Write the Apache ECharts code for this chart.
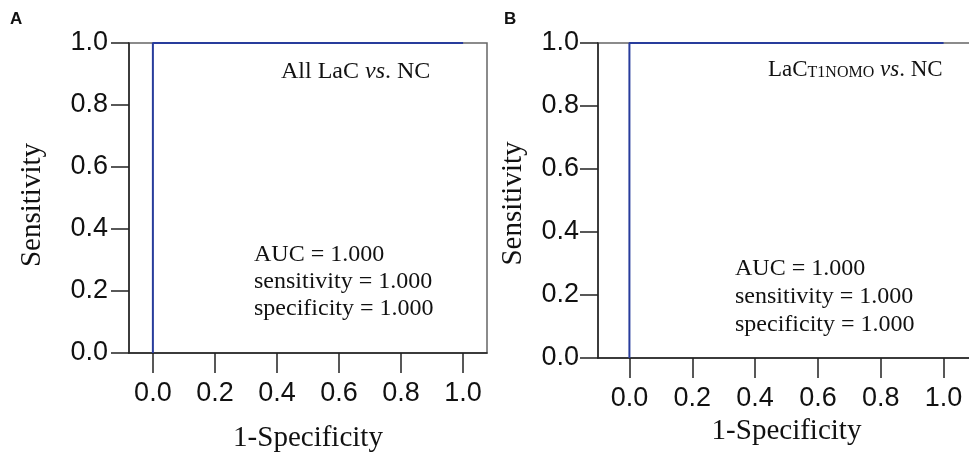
<!DOCTYPE html>
<html>
<head>
<meta charset="utf-8">
<script src="https://cdn.jsdelivr.net/npm/echarts@6/dist/echarts.min.js"></script>
<style>
html,body{margin:0;padding:0;background:#fff;}
#chart{width:969px;height:452px;}
</style>
</head>
<body>
<div id="chart"></div>
<script>
// ---- data ----
const rocA = [[0, 0], [0, 1], [1, 1]];
const rocB = [[0, 0], [0, 1], [1, 1]];
const xTicks = [0, 0.2, 0.4, 0.6, 0.8, 1.0];
const yTicks = [0, 0.2, 0.4, 0.6, 0.8, 1.0];
const panelLabels = ['A', 'B'];
const statsA = ['AUC = 1.000', 'sensitivity = 1.000', 'specificity = 1.000'];
const statsB = ['AUC = 1.000', 'sensitivity = 1.000', 'specificity = 1.000'];

const SANS = '"Liberation Sans", Arial, sans-serif';
const SERIF = '"Liberation Serif", "Times New Roman", serif';
const AXC = '#222';

function xAx(gi, min, max, labelMargin, nameGap) {
  return {
    gridIndex: gi, type: 'value', min: min, max: max,
    name: '1-Specificity', nameLocation: 'middle', nameGap: nameGap,
    nameTextStyle: {fontFamily: SERIF, fontSize: 29, color: '#111'},
    axisLine: {show: true, onZero: false, lineStyle: {color: AXC, width: 1.5}},
    axisTick: {show: true, inside: false, length: 20, customValues: xTicks, lineStyle: {color: AXC, width: 1.5}},
    axisLabel: {customValues: xTicks, margin: labelMargin, fontFamily: SANS, fontSize: 27, color: '#111',
      formatter: v => v.toFixed(1)},
    splitLine: {show: false}
  };
}
function yAx(gi, labelMargin, nameGap, shift) {
  return {
    gridIndex: gi, type: 'value', min: 0, max: 1, interval: 0.2,
    name: 'Sensitivity', nameLocation: 'middle', nameGap: nameGap, nameRotate: 90,
    nameTextStyle: {fontFamily: SERIF, fontSize: 29, color: '#111', padding: [0, shift, 0, 0]},
    axisLine: {show: true, onZero: false, lineStyle: {color: AXC, width: 1.5}},
    axisTick: {show: true, inside: false, length: 18, lineStyle: {color: AXC, width: 1.5}},
    axisLabel: {margin: labelMargin, fontFamily: SANS, fontSize: 27, color: '#111',
      formatter: v => v.toFixed(1)},
    splitLine: {show: false}
  };
}
function roc(i, data) {
  return {
    type: 'line', xAxisIndex: i, yAxisIndex: i, data: data,
    showSymbol: false, symbol: 'none', clip: false, silent: true,
    lineStyle: {color: '#283c9c', width: 2}
  };
}

const chart = echarts.init(document.getElementById('chart'), null, {renderer: 'canvas'});
chart.setOption({
  backgroundColor: '#fff',
  animation: false,
  grid: [
    {left: 129, top: 43, width: 358, height: 310, outerBoundsMode: 'none', containLabel: false, show: true, borderColor: '#666', borderWidth: 1.5, backgroundColor: 'transparent'},
    {left: 598, top: 43, width: 377, height: 315, outerBoundsMode: 'none', containLabel: false, show: true, borderColor: '#666', borderWidth: 1.5, backgroundColor: 'transparent'}
  ],
  xAxis: [xAx(0, -0.077, 1.077, 27, 71), xAx(1, -0.1, 1.1, 27, 59)],
  yAxis: [yAx(0, 21, 82, 14), yAx(1, 19, 70, 6)],
  series: [roc(0, rocA), roc(1, rocB)],
  graphic: [
    {type: 'text', left: 10, top: 11, style: {text: panelLabels[0], font: 'bold 17px ' + SANS, fill: '#111'}},
    {type: 'text', left: 504, top: 11, style: {text: panelLabels[1], font: 'bold 17px ' + SANS, fill: '#111'}},
    {type: 'text', left: 281, top: 60, style: {
      text: '{n|All LaC }{i|vs}{n|. NC}',
      rich: {n: {fontFamily: SERIF, fontSize: 24, fill: '#111'}, i: {fontFamily: SERIF, fontSize: 24, fontStyle: 'italic', fill: '#111'}}
    }},
    {type: 'text', left: 254, top: 241, style: {
      text: statsA.join('\n'), font: '24px ' + SERIF, fill: '#111', lineHeight: 27
    }},
    {type: 'text', left: 768, top: 58, style: {
      text: '{n|LaC}{s|T1NOMO}{n| }{i|vs}{n|. NC}',
      rich: {
        n: {fontFamily: SERIF, fontSize: 23, fill: '#111', verticalAlign: 'bottom', lineHeight: 26},
        s: {fontFamily: SERIF, fontSize: 16, fill: '#111', verticalAlign: 'bottom', lineHeight: 22},
        i: {fontFamily: SERIF, fontSize: 23, fontStyle: 'italic', fill: '#111', verticalAlign: 'bottom', lineHeight: 26}
      }
    }},
    {type: 'text', left: 735, top: 255, style: {
      text: statsB.join('\n'), font: '24px ' + SERIF, fill: '#111', lineHeight: 28
    }}
  ]
});
</script>
</body>
</html>
